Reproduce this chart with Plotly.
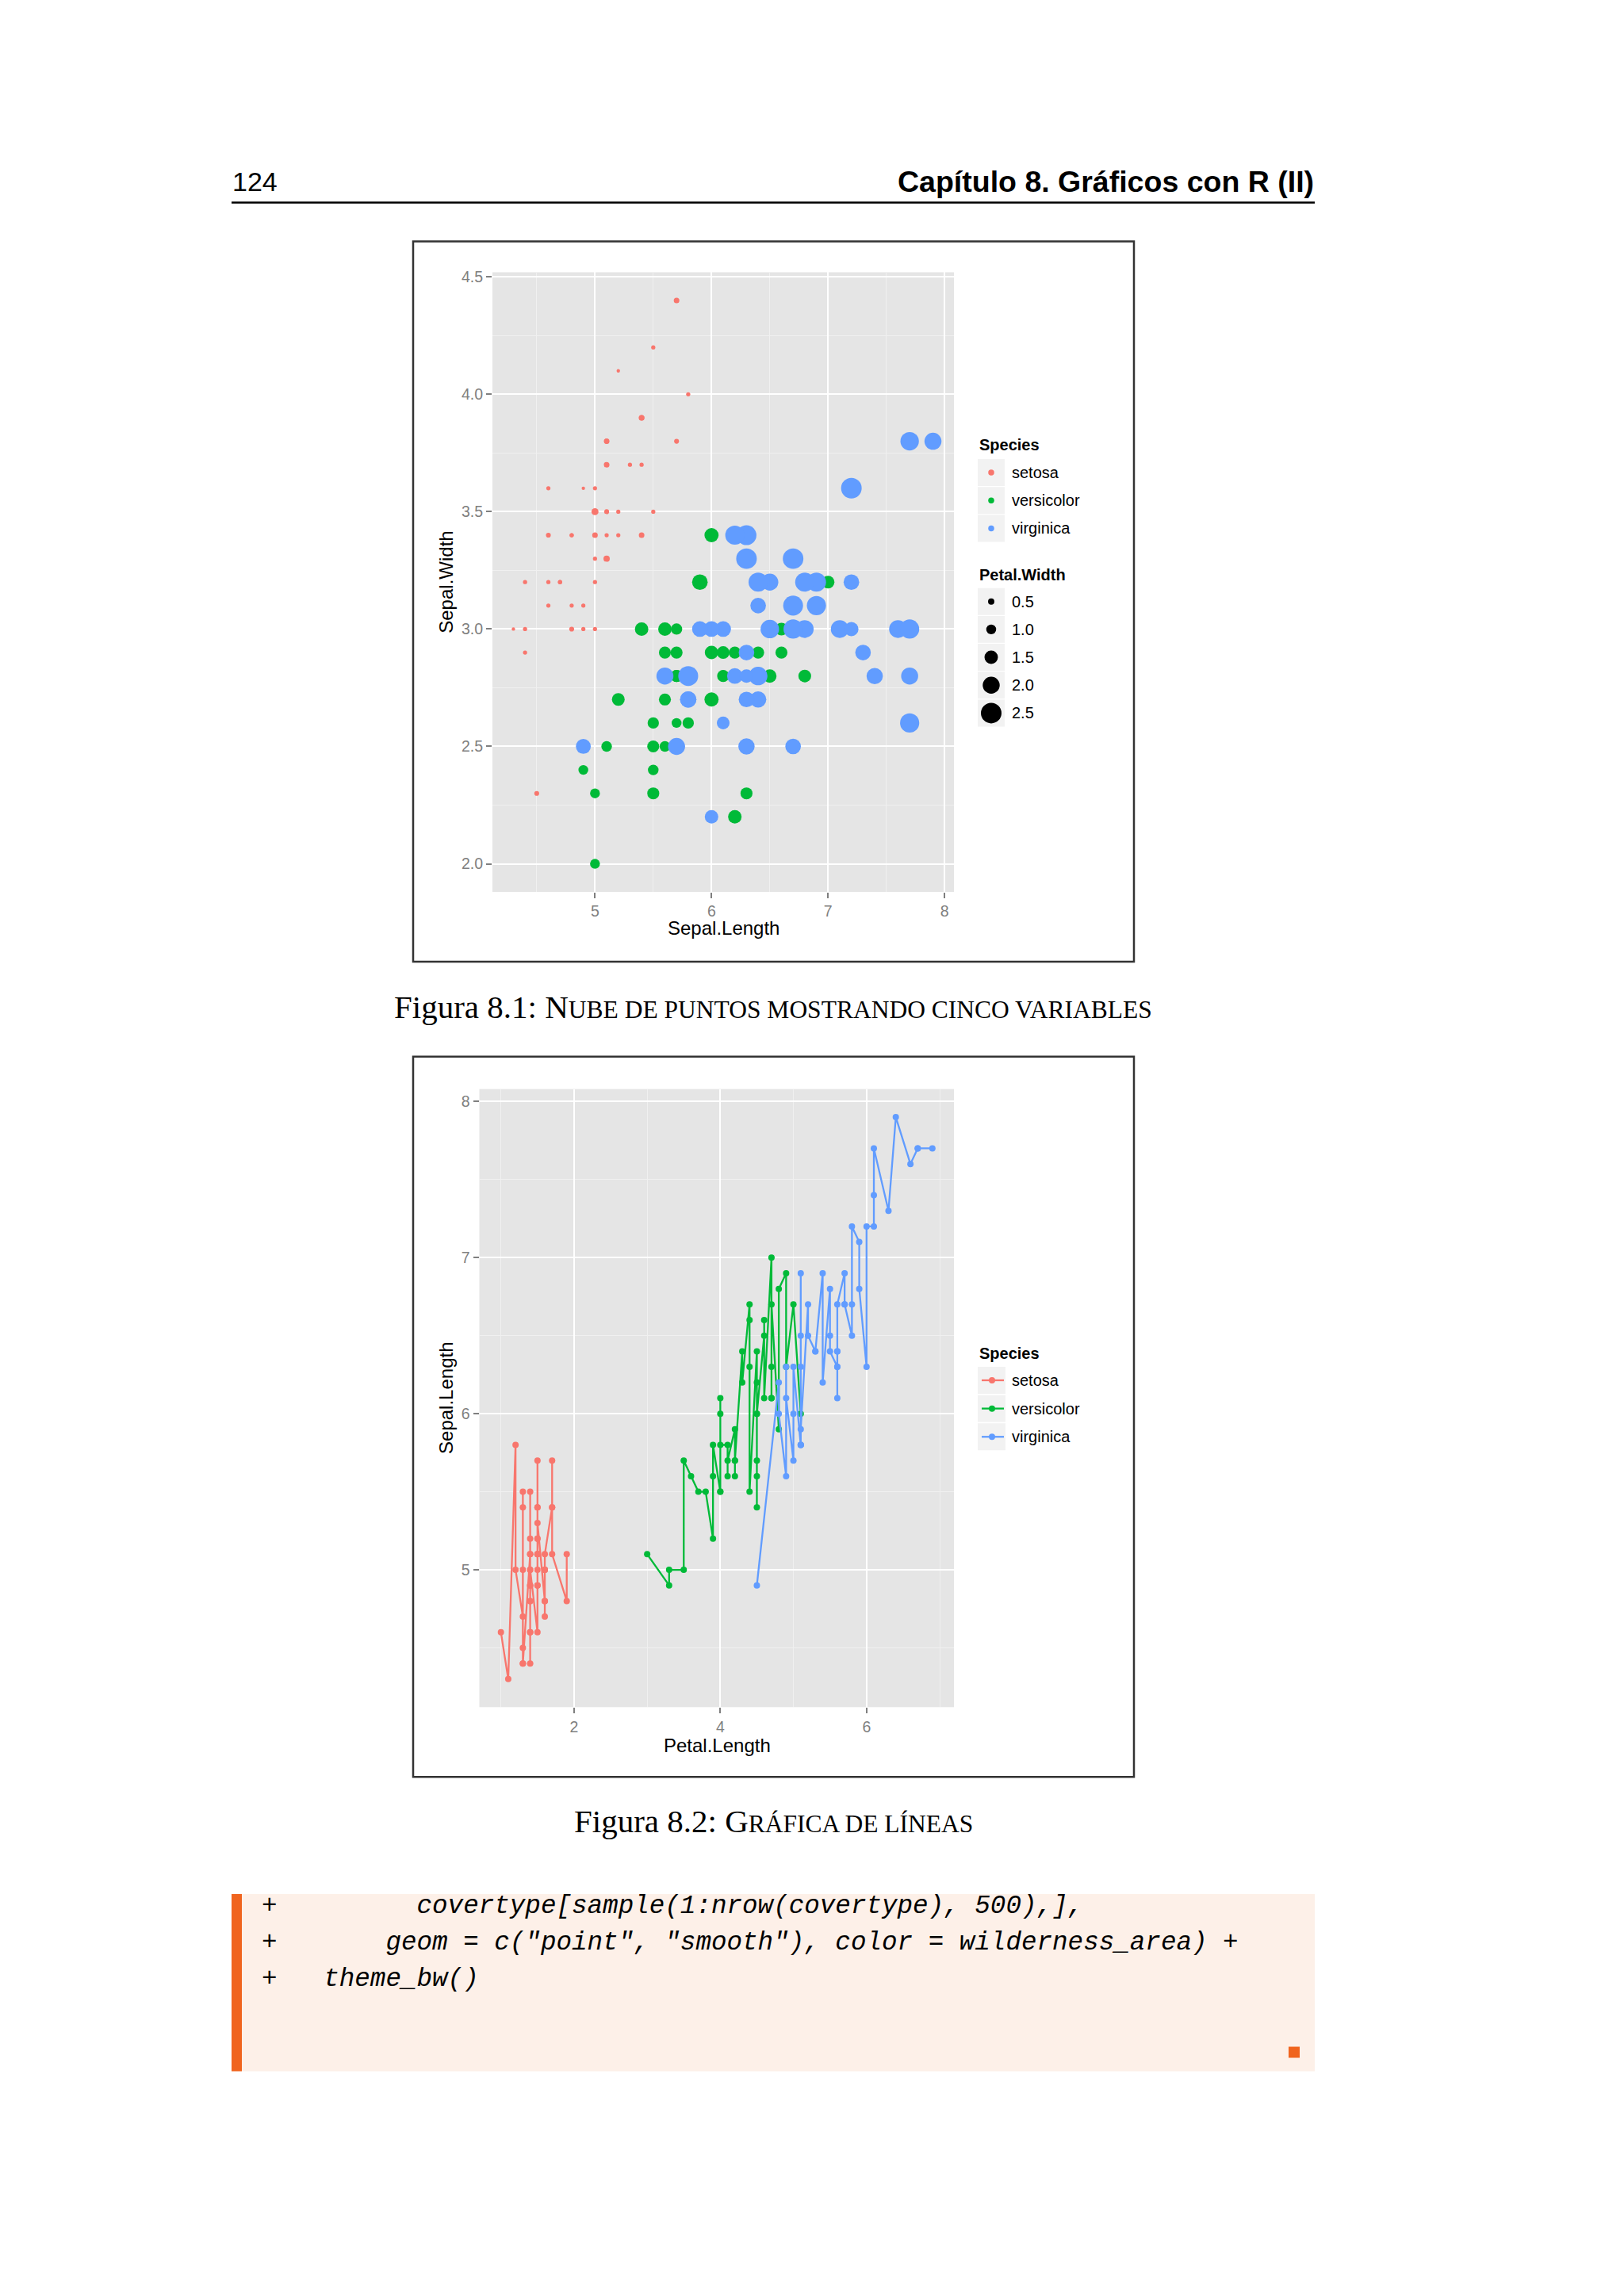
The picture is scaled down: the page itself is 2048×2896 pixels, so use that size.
import plotly.graph_objects as go

W, H = 2048, 2896

# ---------------- data (R iris dataset, as plotted) ----------------
species_names = ["setosa", "versicolor", "virginica"]
species_colors = ["#F8766D", "#00BA38", "#619CFF"]

setosa_sepal_length = [5.1,4.9,4.7,4.6,5.0,5.4,4.6,5.0,4.4,4.9,5.4,4.8,4.8,4.3,5.8,5.7,5.4,5.1,5.7,5.1,5.4,5.1,4.6,5.1,4.8,5.0,5.0,5.2,5.2,4.7,4.8,5.4,5.2,5.5,4.9,5.0,5.5,4.9,4.4,5.1,5.0,4.5,4.4,5.0,5.1,4.8,5.1,4.6,5.3,5.0]
setosa_sepal_width = [3.5,3.0,3.2,3.1,3.6,3.9,3.4,3.4,2.9,3.1,3.7,3.4,3.0,3.0,4.0,4.4,3.9,3.5,3.8,3.8,3.4,3.7,3.6,3.3,3.4,3.0,3.4,3.5,3.4,3.2,3.1,3.4,4.1,4.2,3.1,3.2,3.5,3.6,3.0,3.4,3.5,2.3,3.2,3.5,3.8,3.0,3.8,3.2,3.7,3.3]
setosa_petal_length = [1.4,1.4,1.3,1.5,1.4,1.7,1.4,1.5,1.4,1.5,1.5,1.6,1.4,1.1,1.2,1.5,1.3,1.4,1.7,1.5,1.7,1.5,1.0,1.7,1.9,1.6,1.6,1.5,1.4,1.6,1.6,1.5,1.5,1.4,1.5,1.2,1.3,1.4,1.3,1.5,1.3,1.3,1.3,1.6,1.9,1.4,1.6,1.4,1.5,1.4]
setosa_petal_width = [0.2,0.2,0.2,0.2,0.2,0.4,0.3,0.2,0.2,0.1,0.2,0.2,0.1,0.1,0.2,0.4,0.4,0.3,0.3,0.3,0.2,0.4,0.2,0.5,0.2,0.2,0.4,0.2,0.2,0.2,0.2,0.4,0.1,0.2,0.2,0.2,0.2,0.1,0.2,0.2,0.3,0.3,0.2,0.6,0.4,0.3,0.2,0.2,0.2,0.2]

versicolor_sepal_length = [7.0,6.4,6.9,5.5,6.5,5.7,6.3,4.9,6.6,5.2,5.0,5.9,6.0,6.1,5.6,6.7,5.6,5.8,6.2,5.6,5.9,6.1,6.3,6.1,6.4,6.6,6.8,6.7,6.0,5.7,5.5,5.5,5.8,6.0,5.4,6.0,6.7,6.3,5.6,5.5,5.5,6.1,5.8,5.0,5.6,5.7,5.7,6.2,5.1,5.7]
versicolor_sepal_width = [3.2,3.2,3.1,2.3,2.8,2.8,3.3,2.4,2.9,2.7,2.0,3.0,2.2,2.9,2.9,3.1,3.0,2.7,2.2,2.5,3.2,2.8,2.5,2.8,2.9,3.0,2.8,3.0,2.9,2.6,2.4,2.4,2.7,2.7,3.0,3.4,3.1,2.3,3.0,2.5,2.6,3.0,2.6,2.3,2.7,3.0,2.9,2.9,2.5,2.8]
versicolor_petal_length = [4.7,4.5,4.9,4.0,4.6,4.5,4.7,3.3,4.6,3.9,3.5,4.2,4.0,4.7,3.6,4.4,4.5,4.1,4.5,3.9,4.8,4.0,4.9,4.7,4.3,4.4,4.8,5.0,4.5,3.5,3.8,3.7,3.9,5.1,4.5,4.5,4.7,4.4,4.1,4.0,4.4,4.6,4.0,3.3,4.2,4.2,4.2,4.3,3.0,4.1]
versicolor_petal_width = [1.4,1.5,1.5,1.3,1.5,1.3,1.6,1.0,1.3,1.4,1.0,1.5,1.0,1.4,1.3,1.4,1.5,1.0,1.5,1.1,1.8,1.3,1.5,1.2,1.3,1.4,1.4,1.7,1.5,1.0,1.1,1.0,1.2,1.6,1.5,1.6,1.5,1.3,1.3,1.3,1.2,1.4,1.2,1.0,1.3,1.2,1.3,1.3,1.1,1.3]

virginica_sepal_length = [6.3,5.8,7.1,6.3,6.5,7.6,4.9,7.3,6.7,7.2,6.5,6.4,6.8,5.7,5.8,6.4,6.5,7.7,7.7,6.0,6.9,5.6,7.7,6.3,6.7,7.2,6.2,6.1,6.4,7.2,7.4,7.9,6.4,6.3,6.1,7.7,6.3,6.4,6.0,6.9,6.7,6.9,5.8,6.8,6.7,6.7,6.3,6.5,6.2,5.9]
virginica_sepal_width = [3.3,2.7,3.0,2.9,3.0,3.0,2.5,2.9,2.5,3.6,3.2,2.7,3.0,2.5,2.8,3.2,3.0,3.8,2.6,2.2,3.2,2.8,2.8,2.7,3.3,3.2,2.8,3.0,2.8,3.0,2.8,3.8,2.8,2.8,2.6,3.0,3.4,3.1,3.0,3.1,3.1,3.1,2.7,3.2,3.3,3.0,2.5,3.0,3.4,3.0]
virginica_petal_length = [6.0,5.1,5.9,5.6,5.8,6.6,4.5,6.3,5.8,6.1,5.1,5.3,5.5,5.0,5.1,5.3,5.5,6.7,6.9,5.0,5.7,4.9,6.7,4.9,5.7,6.0,4.8,4.9,5.6,5.8,6.1,6.4,5.6,5.1,5.6,6.1,5.6,5.5,4.8,5.4,5.6,5.1,5.1,5.9,5.7,5.2,5.0,5.2,5.4,5.1]
virginica_petal_width = [2.5,1.9,2.1,1.8,2.2,2.1,1.7,1.8,1.8,2.5,2.0,1.9,2.1,2.0,2.4,2.3,1.8,2.2,2.3,1.5,2.3,2.0,2.0,1.8,2.1,1.8,1.8,1.8,2.1,1.6,1.9,2.0,2.2,1.5,1.4,2.3,2.4,1.8,1.8,2.1,2.4,2.3,1.9,2.3,2.5,2.3,1.9,2.0,2.3,1.8]

size_legend_values = [0.5, 1.0, 1.5, 2.0, 2.5]

x1_ticks = [5, 6, 7, 8]
y1_ticks = [2.0, 2.5, 3.0, 3.5, 4.0, 4.5]
x2_ticks = [2, 4, 6]
y2_ticks = [5, 6, 7, 8]

header_page = "124"
header_title = "Capítulo 8. Gráficos con R (II)"
caption1 = ("Figura 8.1: ", "N", "UBE DE PUNTOS MOSTRANDO CINCO VARIABLES")
caption2 = ("Figura 8.2: ", "G", "RÁFICA DE LÍNEAS")
code_lines = [
    "+         covertype[sample(1:nrow(covertype), 500),],",
    '+       geom = c("point", "smooth"), color = wilderness_area) +',
    "+   theme_bw()",
]

# ---------------- helpers ----------------
def px(x):
    return x / W


def py(y):
    return 1 - y / H


def expand(vals, mult=0.05):
    lo, hi = min(vals), max(vals)
    d = (hi - lo) * mult
    return [lo - d, hi + d]


SL = [setosa_sepal_length, versicolor_sepal_length, virginica_sepal_length]
SW = [setosa_sepal_width, versicolor_sepal_width, virginica_sepal_width]
PL = [setosa_petal_length, versicolor_petal_length, virginica_petal_length]
PWD = [setosa_petal_width, versicolor_petal_width, virginica_petal_width]

all_sl = sum(SL, [])
all_sw = sum(SW, [])
all_pl = sum(PL, [])
all_pw = sum(PWD, [])
pw_min, pw_max = min(all_pw), max(all_pw)
K = 4.33  # px per ggplot size unit


def size_scale(v):
    # ggplot2 (old) scale_size: linear rescale to range c(1, 6)
    return K * (1 + 5 * (v - pw_min) / (pw_max - pw_min))


TICK_FONT = dict(family="Liberation Sans, Arial, sans-serif", size=19.5, color="#7f7f7f")
TITLE_FONT = dict(family="Liberation Sans, Arial, sans-serif", size=24, color="#000000")
LEG_FONT = dict(family="Liberation Sans, Arial, sans-serif", size=20, color="#000000")

fig = go.Figure()

# ---- chart 1: scatter ----
for i, name in enumerate(species_names):
    fig.add_trace(go.Scatter(
        x=SL[i], y=SW[i], mode="markers", name=name,
        marker=dict(color=species_colors[i], size=[size_scale(v) for v in PWD[i]],
                    sizemode="diameter", line=dict(width=0), opacity=1),
        xaxis="x", yaxis="y", showlegend=False, hoverinfo="skip"))

# ---- chart 2: lines (sorted by x, like geom_line) ----
for i, name in enumerate(species_names):
    order = sorted(range(len(PL[i])), key=lambda k: PL[i][k])
    fig.add_trace(go.Scatter(
        x=[PL[i][k] for k in order], y=[SL[i][k] for k in order],
        mode="lines+markers", name=name,
        line=dict(color=species_colors[i], width=2.3),
        marker=dict(color=species_colors[i], size=8),
        xaxis="x2", yaxis="y2", showlegend=False, hoverinfo="skip"))


def axis_common():
    return dict(
        showgrid=True, gridcolor="#ffffff", gridwidth=2.2,
        zeroline=False, showline=False,
        ticks="outside", ticklen=7, tickwidth=2, tickcolor="#7f7f7f",
        tickfont=TICK_FONT, fixedrange=True,
    )


x1_range = expand(all_sl)
y1_range = expand(all_sw)
x2_range = expand(all_pl)
y2_range = expand(all_sl)

ax = axis_common()
MINOR = dict(showgrid=True, gridcolor="#f0f0f0", gridwidth=1.2, ticks="")
fig.update_layout(
    xaxis=dict(ax, domain=[px(621), px(1203)], range=x1_range, anchor="y",
               tickvals=x1_ticks, ticktext=[str(v) for v in x1_ticks],
               minor=dict(MINOR, tickvals=[4.5, 5.5, 6.5, 7.5])),
    yaxis=dict(ax, domain=[py(1122), py(339)], range=y1_range, anchor="x",
               tickvals=y1_ticks, ticktext=["%.1f" % v for v in y1_ticks],
               minor=dict(MINOR, tickvals=[2.25, 2.75, 3.25, 3.75, 4.25])),
    xaxis2=dict(ax, domain=[px(604.5), px(1203)], range=x2_range, anchor="y2",
                tickvals=x2_ticks, ticktext=[str(v) for v in x2_ticks],
                minor=dict(MINOR, tickvals=[1, 3, 5, 7])),
    yaxis2=dict(ax, domain=[py(2152), py(1371)], range=y2_range, anchor="x2",
                tickvals=y2_ticks, ticktext=[str(v) for v in y2_ticks],
                minor=dict(MINOR, tickvals=[4.5, 5.5, 6.5, 7.5])),
)

shapes = []
annotations = []


def rect(x0, y0, x1, y1, fill=None, line_color=None, lw=0):
    shapes.append(dict(type="rect", xref="paper", yref="paper",
                       x0=px(x0), x1=px(x1), y0=py(y1), y1=py(y0),
                       fillcolor=fill if fill else "rgba(0,0,0,0)",
                       line=dict(color=line_color if line_color else "rgba(0,0,0,0)", width=lw),
                       layer="below" if fill and not line_color else "above"))


def circle(cx, cy, d, color):
    shapes.append(dict(type="circle", xref="paper", yref="paper",
                       x0=px(cx - d / 2), x1=px(cx + d / 2), y0=py(cy + d / 2), y1=py(cy - d / 2),
                       fillcolor=color, line=dict(width=0), layer="above"))


def hline(x0, x1, y, color, lw):
    shapes.append(dict(type="line", xref="paper", yref="paper",
                       x0=px(x0), x1=px(x1), y0=py(y), y1=py(y),
                       line=dict(color=color, width=lw), layer="above"))


def text(x, y, s, font, xanchor="left", yanchor="middle", angle=0):
    annotations.append(dict(x=px(x), y=py(y), xref="paper", yref="paper", text=s,
                            showarrow=False, xanchor=xanchor, yanchor=yanchor,
                            font=font, textangle=angle, borderpad=0))


# ---- header ----
text(292, 224, header_page, dict(family="Liberation Sans, Arial, sans-serif", size=34, color="#000"))
text(1658, 224, "<b>%s</b>" % header_title, dict(family="Liberation Sans, Arial, sans-serif", size=37.5, color="#000"), xanchor="right")
hline(292, 1658, 251, "#000000", 2.5)

# ---- chart frames ----
rect(521, 300, 1430, 1210, line_color="#333333", lw=2.5)
rect(521, 1330, 1430, 2240, line_color="#333333", lw=2.5)

# ---- axis titles ----
text(912, 1168, "Sepal.Length", TITLE_FONT, xanchor="center")
text(563, 731, "Sepal.Width", TITLE_FONT, xanchor="center", angle=-90)
text(904, 2200, "Petal.Length", TITLE_FONT, xanchor="center")
text(563, 1762, "Sepal.Length", TITLE_FONT, xanchor="center", angle=-90)

# ---- legend chart 1 ----
KEY_BG = "#f2f2f2"
text(1234, 557, "<b>Species</b>", LEG_FONT)
for i, name in enumerate(species_names):
    cy = 592 + 35.3 * i
    rect(1233, cy - 17, 1267, cy + 17, fill=KEY_BG)
    circle(1250, cy, 7.5, species_colors[i])
    text(1275, cy, name, LEG_FONT)
text(1234, 721, "<b>Petal.Width</b>", LEG_FONT)
for i, v in enumerate(size_legend_values):
    cy = 755 + 35.25 * i
    rect(1233, cy - 17, 1267, cy + 17, fill=KEY_BG)
    circle(1250, cy, size_scale(v), "#000000")
    text(1275, cy, "%.1f" % v, LEG_FONT)

# ---- legend chart 2 ----
text(1234, 1705, "<b>Species</b>", LEG_FONT)
for i, name in enumerate(species_names):
    cy = 1739 + 35.7 * i
    rect(1233, cy - 17, 1268, cy + 17, fill=KEY_BG)
    hline(1238, 1266, cy, species_colors[i], 2.3)
    circle(1251, cy, 8, species_colors[i])
    text(1275, cy, name, LEG_FONT)

# ---- captions (manual small caps) ----
CAP_FONT = dict(family="Liberation Serif, Times New Roman, serif", size=41, color="#000")
for (a, b, c), yy in [(caption1, 1267), (caption2, 2296)]:
    s = '%s%s<span style="font-size:31.5px">%s</span>' % (a, b, c)
    text(975, yy, s, CAP_FONT, xanchor="center")

# ---- code block ----
rect(292, 2388, 1658, 2612, fill="#fdf0e8")
rect(292, 2388, 305, 2612, fill="#f0641e")
rect(1625, 2581, 1639, 2595, fill="#f0641e")
CODE_FONT = dict(family="Liberation Mono, Courier New, monospace", size=32.6, color="#000")
for i, line in enumerate(code_lines):
    s = "<i>%s</i>" % line.replace(" ", "\u00a0")
    text(329, 2404 + 46 * i, s, CODE_FONT)

fig.update_layout(
    width=W, height=H, autosize=False,
    margin=dict(l=0, r=0, t=0, b=0, pad=0),
    paper_bgcolor="#ffffff", plot_bgcolor="#e5e5e5",
    showlegend=False,
    shapes=shapes, annotations=annotations,
)

fig.write_html("out.html", config={"displayModeBar": False},
               post_script="document.body.style.margin='0px';document.body.style.padding='0px';")
